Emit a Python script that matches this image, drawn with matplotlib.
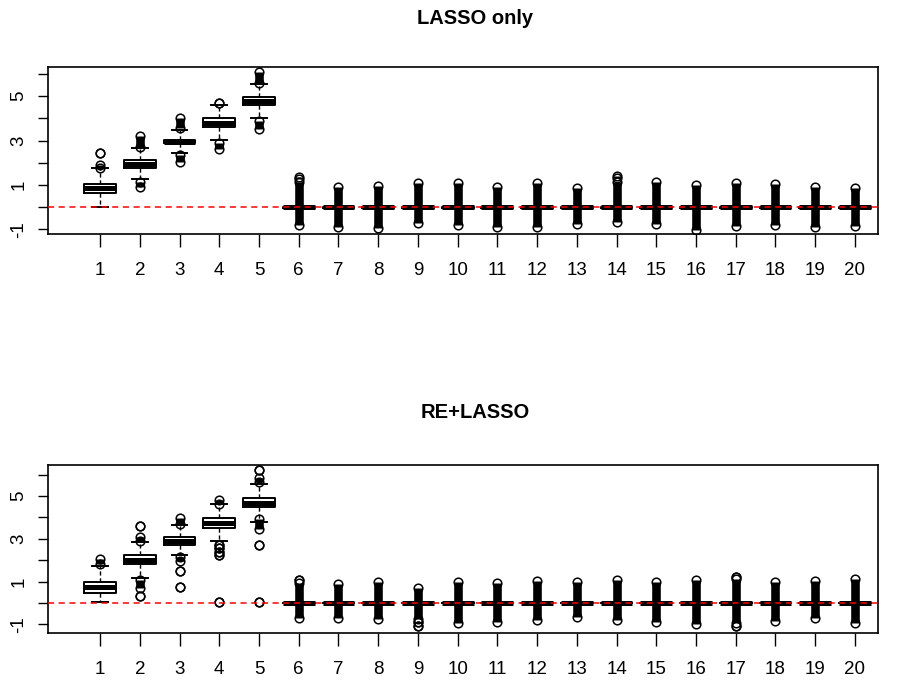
import matplotlib.pyplot as plt

plt.rcParams['font.family'] = ['Liberation Sans', 'DejaVu Sans']

variables = list(range(1, 21))

# LASSO only: box summaries (vars 6-20 collapse onto zero)
lasso_med = [0.85, 1.95, 2.95, 3.80, 4.77] + [0.0] * 15
lasso_q1 = [0.62, 1.77, 2.88, 3.60, 4.60] + [-0.02] * 15
lasso_q3 = [1.05, 2.13, 3.03, 4.00, 4.95] + [0.02] * 15
lasso_wlo = [0.02, 1.25, 2.42, 3.02, 4.00] + [-0.05] * 15
lasso_whi = [1.75, 2.65, 3.47, 4.62, 5.55] + [0.05] * 15
# outliers: (low, high) runs of overlapping points; low == high is a single point
lasso_out = [
    [(1.78, 1.88), (2.45, 2.45)],
    [(2.72, 3.20), (0.90, 1.15)],
    [(3.55, 4.00), (2.05, 2.35)],
    [(4.68, 4.68), (2.60, 2.90)],
    [(5.60, 6.08), (3.50, 3.90)],
    [(-0.81, 1.15), (1.27, 1.37)],
    [(-0.88, 0.92)],
    [(-0.93, 0.95)],
    [(-0.73, 1.07)],
    [(-0.81, 1.07)],
    [(-0.88, 0.90)],
    [(-0.88, 1.07)],
    [(-0.77, 0.84)],
    [(-0.69, 1.15), (1.30, 1.40)],
    [(-0.77, 1.15)],
    [(-1.03, 1.00)],
    [(-0.84, 1.07)],
    [(-0.81, 1.03)],
    [(-0.88, 0.92)],
    [(-0.84, 0.87)],
]

# RE+LASSO
re_med = [0.73, 2.01, 2.90, 3.72, 4.69] + [0.0] * 15
re_q1 = [0.47, 1.80, 2.72, 3.50, 4.47] + [-0.02] * 15
re_q3 = [1.00, 2.24, 3.10, 3.95, 4.92] + [0.02] * 15
re_wlo = [0.05, 1.18, 2.25, 2.90, 3.80] + [-0.05] * 15
re_whi = [1.73, 2.84, 3.64, 4.61, 5.55] + [0.05] * 15
re_out = [
    [(1.80, 2.05)],
    [(2.88, 3.08), (3.62, 3.62), (0.72, 1.08), (0.33, 0.33)],
    [(3.70, 3.97), (1.96, 2.17), (1.50, 1.50), (0.76, 0.76)],
    [(4.65, 4.80), (2.72, 2.72), (2.57, 2.57), (2.40, 2.40), (2.25, 2.25), (0.03, 0.03)],
    [(5.65, 5.85), (6.22, 6.22), (3.47, 3.92), (2.71, 2.71), (0.03, 0.03)],
    [(-0.69, 0.95), (1.08, 1.08)],
    [(-0.72, 0.88)],
    [(-0.75, 1.00)],
    [(-0.75, 0.72), (-0.90, -0.90), (-1.08, -1.08)],
    [(-0.95, 1.00)],
    [(-0.88, 0.92)],
    [(-0.80, 1.03)],
    [(-0.64, 1.00)],
    [(-0.80, 1.08)],
    [(-0.88, 0.97)],
    [(-1.00, 1.08)],
    [(-0.95, 1.12), (1.23, 1.23), (-1.08, -1.08)],
    [(-0.84, 0.97)],
    [(-0.72, 1.03)],
    [(-0.95, 1.12)],
]


def panel(ax, med, q1, q3, wlo, whi, out, ylim):
    stats = []
    for i in range(len(variables)):
        stats.append(dict(med=med[i], q1=q1[i], q3=q3[i],
                          whislo=wlo[i], whishi=whi[i], fliers=[]))
    ax.bxp(stats, positions=variables, widths=0.8, capwidths=0.4,
           showfliers=False,
           boxprops=dict(color='black', lw=1.4),
           whiskerprops=dict(color='black', lw=1.0, linestyle=(0, (3, 2))),
           capprops=dict(color='black', lw=1.4),
           medianprops=dict(color='black', lw=3.6))
    for x, runs in zip(variables, out):
        for lo, hi in runs:
            if hi > lo:
                ax.vlines(x, lo, hi, color='black', lw=6.2, zorder=3)
            ax.plot([x, x], [lo, hi], 'o', ms=6.2, mfc='none', mec='black',
                    mew=1.1, zorder=4)
    ax.axhline(0, color='red', ls=(0, (4, 3)), lw=1.1, zorder=5)

    ax.set_xlim(-0.31, 20.58)
    ax.set_ylim(*ylim)
    ax.set_xticks(variables)
    ax.set_xticklabels([str(v) for v in variables])
    ax.set_yticks(range(-1, 7))
    ax.set_yticklabels(['-1', '', '1', '', '3', '', '5', ''])
    ax.tick_params(axis='x', length=9, width=1.0, pad=11.5, labelsize=13.5)
    ax.tick_params(axis='y', length=7, width=1.0, pad=8, labelsize=13.5)
    for lab in ax.get_yticklabels():
        lab.set_rotation(90)
        lab.set_va('center')
    for s in ax.spines.values():
        s.set_linewidth(1.2)


fig = plt.figure(figsize=(8.97, 6.84), dpi=100)
ax1 = fig.add_axes([48 / 897, 1 - 234 / 684, 830 / 897, 167 / 684])
ax2 = fig.add_axes([48 / 897, 1 - 632.7 / 684, 830 / 897, 167.7 / 684])

panel(ax1, lasso_med, lasso_q1, lasso_q3, lasso_wlo, lasso_whi, lasso_out, (-1.21, 6.31))
panel(ax2, re_med, re_q1, re_q3, re_wlo, re_whi, re_out, (-1.39, 6.45))

fig.text(475 / 897, 1 - 18 / 684, 'LASSO only', ha='center', va='center',
         fontsize=14.5, fontweight='bold')
fig.text(475 / 897, 1 - 413 / 684, 'RE+LASSO', ha='center', va='center',
         fontsize=14.5, fontweight='bold')

fig.savefig('out.png', dpi=100)
